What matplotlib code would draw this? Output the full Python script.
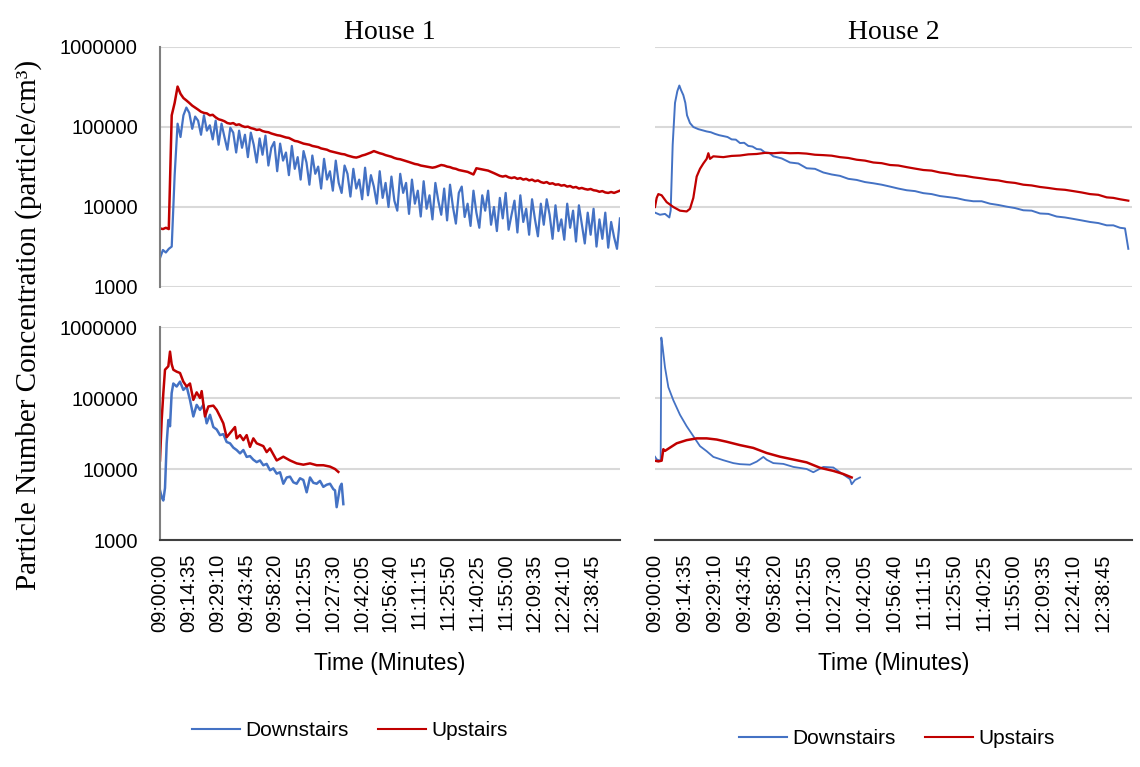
import matplotlib.pyplot as plt
import numpy as np
from matplotlib.lines import Line2D
from matplotlib.ticker import NullLocator

# Particle number concentration, two houses, two test days (top row / bottom row)
# times are seconds after 09:00:00

# House 1, day 1 - logged every 89 s
h1a_t = np.arange(158) * 89
h1a_down = [2300, 2900, 2700, 3000, 3200, 25000, 110000, 75000, 140000, 175000,
            150000, 95000, 135000, 120000, 80000, 140000, 90000, 105000, 70000, 120000,
            60000, 110000, 75000, 52000, 98000, 85000, 48000, 90000, 55000, 80000,
            42000, 85000, 60000, 36000, 72000, 45000, 78000, 33000, 55000, 65000,
            28000, 62000, 38000, 48000, 25000, 58000, 30000, 42000, 22000, 50000,
            36000, 19000, 44000, 26000, 32000, 17000, 40000, 22000, 28000, 16000,
            38000, 20000, 15000, 33000, 26000, 13500, 30000, 17000, 22000, 12500,
            31000, 14000, 25000, 18000, 11000, 28000, 13000, 20000, 10000, 24000,
            12000, 9000, 26000, 15000, 20000, 8200, 22000, 11000, 16000, 7600,
            21000, 9500, 14000, 7000, 20000, 12000, 8000, 17000, 6800, 19000,
            10000, 6200, 15000, 18000, 7500, 11000, 5800, 16000, 8500, 5500,
            14000, 9000, 16000, 6000, 10000, 5000, 13000, 7200, 15000, 5200,
            8000, 12000, 4800, 14000, 6500, 9500, 4500, 12500, 7000, 4300,
            11000, 6000, 12500, 8000, 4000, 10500, 5000, 7000, 3900, 11000,
            5500, 9000, 3700, 10500, 6000, 3500, 8500, 4500, 9500, 3200,
            7000, 4000, 8500, 3100, 6500, 4200, 3000, 7200]
h1a_up = [5400, 5300, 5500, 5300, 140000, 200000, 320000, 260000, 230000, 215000,
          200000, 185000, 175000, 165000, 155000, 150000, 148000, 140000, 142000, 132000,
          125000, 122000, 118000, 112000, 110000, 112000, 106000, 108000, 103000, 100000,
          101000, 97000, 95000, 92000, 93000, 89000, 87000, 86000, 83000, 81000,
          79000, 78000, 76000, 74000, 73000, 70000, 67000, 66000, 64000, 62000,
          61000, 60000, 58000, 57000, 56000, 54000, 53000, 52000, 50000, 49000,
          48000, 47000, 46000, 45500, 44000, 43000, 42000, 41500, 42500, 44000,
          45000, 46500, 48000, 50000, 48500, 47000, 46000, 44500, 43500, 42500,
          41000, 40000, 39500, 38500, 37500, 36500, 35500, 34500, 34000, 33000,
          32500, 32000, 31500, 31000, 31500, 32500, 33500, 33000, 32000, 31500,
          30500, 30000, 29000, 28500, 28000, 27500, 26500, 25500, 30500, 30000,
          29500, 29000, 28500, 27500, 26500, 25500, 24500, 24000, 24500, 23500,
          23000, 23500, 22500, 23000, 22000, 22500, 21500, 22000, 21000, 21500,
          20500, 20000, 20500, 19500, 19800, 19000, 19200, 18500, 18800, 18000,
          18300, 17500, 17800, 17000, 17300, 16800, 16500, 16800, 16200, 16000,
          15500, 15800, 15200, 15000, 15400, 15000, 15500, 16000]

# House 2, day 1
h2a_down_t = [0, 146, 293, 420, 459, 518, 586, 654, 713, 762, 830, 889, 938, 1025,
              1123, 1270, 1514, 1636, 1758, 1880, 2002, 2124, 2246, 2368, 2490, 2612,
              2734, 2856, 2979, 3101, 3223, 3345, 3467, 3711, 3955, 4199, 4443, 4687,
              4932, 5176, 5420, 5664, 5908, 6152, 6397, 6641, 6885, 7129, 7373, 7617,
              7862, 8106, 8350, 8594, 8838, 9082, 9326, 9570, 9815, 10059, 10303,
              10547, 10791, 11035, 11280, 11524, 11768, 12012, 12256, 12500, 12744,
              12988, 13233, 13428, 13623, 13770, 13867]
h2a_down = [8500, 8000, 8200, 7400, 9000, 60000, 200000, 280000, 330000, 290000,
            250000, 200000, 140000, 112000, 100000, 94000, 88000, 86000, 82000, 79000,
            77000, 75000, 70000, 69500, 63000, 63500, 58000, 57000, 53000, 52500,
            48000, 47500, 43000, 40500, 36000, 35000, 30500, 30000, 27000, 25500,
            24500, 22500, 21800, 20500, 19800, 19000, 18000, 17000, 16200, 15800,
            14900, 14500, 13700, 13300, 12900, 12200, 11800, 11800, 11000, 10600,
            10100, 9700, 9100, 9000, 8300, 8200, 7600, 7400, 7100, 6800,
            6500, 6300, 5900, 5900, 5500, 5400, 3000]
h2a_up_t = [0, 49, 98, 195, 342, 537, 732, 928, 1025, 1123, 1221, 1318, 1416, 1514,
            1563, 1611, 1709, 2002, 2246, 2490, 2734, 2979, 3223, 3467, 3711, 3955,
            4199, 4443, 4687, 4932, 5176, 5420, 5664, 5908, 6152, 6397, 6641, 6885,
            7129, 7373, 7617, 7862, 8106, 8350, 8594, 8838, 9082, 9326, 9570, 9815,
            10059, 10303, 10547, 10791, 11035, 11280, 11524, 11768, 12012, 12256,
            12500, 12744, 12988, 13233, 13428, 13623, 13867]
h2a_up = [10000, 13000, 14500, 14000, 11500, 10000, 9000, 8800, 9500, 13000,
          24000, 30000, 35000, 40000, 47000, 40000, 43000, 42000, 43500, 44000,
          45500, 46000, 47500, 47000, 47800, 47000, 47200, 46500, 45000, 44500,
          43800, 42000, 41000, 39000, 38000, 36000, 35300, 33500, 33000, 31500,
          30200, 29000, 28500, 27000, 26200, 25000, 24500, 23500, 22800, 22000,
          21500, 20500, 20000, 19000, 18600, 17800, 17300, 16700, 16400, 15800,
          15200, 14500, 14200, 13200, 13000, 12500, 12000]

# House 1, day 2
h1b_down_t = [0, 51, 101, 152, 203, 253, 304, 354, 405, 506, 608, 709, 810, 911,
              1013, 1114, 1215, 1317, 1418, 1519, 1620, 1722, 1823, 1924, 2025, 2127,
              2228, 2329, 2431, 2532, 2633, 2734, 2836, 2937, 3038, 3139, 3240, 3342,
              3443, 3545, 3646, 3747, 3849, 3950, 4051, 4152, 4254, 4355, 4456, 4557,
              4658, 4759, 4861, 4962, 5063, 5165, 5266, 5317, 5367, 5469, 5519, 5570]
h1b_down = [5000, 4000, 3600, 5400, 23000, 49000, 40000, 117000, 160000, 145000,
            170000, 130000, 145000, 94000, 55000, 80000, 68000, 80000, 44000, 58000,
            39000, 36000, 30000, 31000, 24000, 23000, 20000, 18500, 16600, 18500,
            14800, 15200, 13500, 12500, 13200, 11300, 11800, 9600, 10200, 8600,
            9000, 6200, 7600, 7800, 6500, 6200, 7400, 7000, 4700, 7600,
            6400, 6200, 6800, 5600, 6000, 6200, 5200, 5000, 2900, 5600, 6200, 3200]
h1b_up_t = [0, 51, 101, 152, 253, 304, 354, 405, 506, 608, 709, 810, 911, 1013,
            1114, 1215, 1266, 1367, 1469, 1620, 1722, 1823, 1924, 2025, 2127, 2279,
            2329, 2431, 2532, 2633, 2734, 2836, 2937, 3139, 3240, 3342, 3545, 3747,
            3950, 4152, 4355, 4557, 4759, 4962, 5165, 5317, 5418]
h1b_up = [13200, 49000, 117000, 250000, 280000, 450000, 300000, 250000, 235000, 225000,
          170000, 145000, 160000, 94000, 120000, 100000, 125000, 55000, 76000, 78000,
          68000, 55000, 44000, 28000, 32000, 39000, 27000, 30000, 25500, 30000,
          20500, 27000, 23000, 21000, 17300, 19500, 13200, 14900, 13200, 12000,
          11500, 12000, 11300, 11300, 10800, 10000, 9100]

# House 2, day 2
h2b_down_t = [0, 49, 146, 166, 186, 225, 293, 391, 537, 732, 928, 1123, 1318, 1514,
              1709, 2002, 2295, 2490, 2783, 2979, 3174, 3272, 3467, 3760, 4053, 4443,
              4639, 4932, 5225, 5420, 5713, 5762, 5860, 6006]
h2b_down = [14900, 13700, 13100, 13500, 710000, 515000, 270000, 142000, 93000, 58000,
            40000, 29000, 21000, 17800, 14800, 13300, 12100, 11700, 11500, 12700,
            14800, 13500, 12100, 11800, 10700, 10000, 9000, 10700, 10500, 9000,
            7200, 6100, 7000, 7600]
h2b_up_t = [0, 98, 195, 244, 293, 439, 635, 928, 1221, 1514, 1807, 2100, 2490, 2881,
            3272, 3662, 4053, 4443, 4834, 5225, 5518, 5762]
h2b_up = [13100, 12800, 13100, 19000, 18000, 20000, 23000, 25500, 27000, 27000,
          26000, 24200, 21700, 19800, 16800, 14900, 13600, 12400, 10400, 9400,
          8500, 7600]

houses = ['House 1', 'House 2']
series_names = ['Downstairs', 'Upstairs']
time_ticks = np.arange(16) * 875
time_labels = ['09:00:00', '09:14:35', '09:29:10', '09:43:45', '09:58:20', '10:12:55',
               '10:27:30', '10:42:05', '10:56:40', '11:11:15', '11:25:50', '11:40:25',
               '11:55:00', '12:09:35', '12:24:10', '12:38:45']
conc_ticks = [1000, 10000, 100000, 1000000]
conc_labels = ['1000', '10000', '100000', '1000000']

blue = '#4472C4'
red = '#C00000'
grid_col = '#D9D9D9'
sans = ['Liberation Sans', 'DejaVu Sans']
serif = ['Liberation Serif', 'DejaVu Serif']

plt.rcParams['font.family'] = sans

fig = plt.figure(figsize=(11.4, 7.67), dpi=100)
left_x, left_w = 160 / 1140, 460 / 1140
right_x, right_w = 655 / 1140, 477 / 1140
top_y, top_h = 1 - 287 / 767, 240 / 767
bot_y, bot_h = 1 - 540 / 767, 213 / 767

ax_tl = fig.add_axes([left_x, top_y, left_w, top_h])
ax_tr = fig.add_axes([right_x, top_y, right_w, top_h])
ax_bl = fig.add_axes([left_x, bot_y, left_w, bot_h])
ax_br = fig.add_axes([right_x, bot_y, right_w, bot_h])

ax_tl.plot(h1a_t, h1a_down, color=blue, lw=1.6)
ax_tl.plot(h1a_t, h1a_up, color=red, lw=1.8)
ax_tr.plot(h2a_down_t, h2a_down, color=blue, lw=1.4)
ax_tr.plot(h2a_up_t, h2a_up, color=red, lw=1.6)
ax_bl.plot(h1b_down_t, h1b_down, color=blue, lw=1.8)
ax_bl.plot(h1b_up_t, h1b_up, color=red, lw=1.8)
ax_br.plot(h2b_down_t, h2b_down, color=blue, lw=1.3)
ax_br.plot(h2b_up_t, h2b_up, color=red, lw=1.8)

for ax in [ax_tl, ax_tr, ax_bl, ax_br]:
    ax.set_yscale('log')
    ax.set_ylim(1000, 1000000)
    ax.set_xlim(0, 13975)
    ax.set_yticks(conc_ticks, conc_labels)
    ax.yaxis.set_minor_locator(NullLocator())
    ax.set_xticks(time_ticks, time_labels, rotation=90)
    ax.grid(axis='y', color=grid_col, lw=1.5)
    ax.set_axisbelow(True)
    for s in ax.spines.values():
        s.set_visible(False)
    ax.tick_params(length=0, labelsize=14.5)
    ax.tick_params(axis='y', pad=16)
    ax.tick_params(axis='x', pad=10)

for ax in [ax_tl, ax_tr]:
    ax.tick_params(axis='x', labelbottom=False)
for ax in [ax_tr, ax_br]:
    ax.tick_params(axis='y', labelleft=False)
for ax in [ax_tl, ax_bl]:
    ax.spines['left'].set_visible(True)
    ax.spines['left'].set_color('#7F7F7F')
    ax.spines['left'].set_linewidth(1.5)
for ax in [ax_bl, ax_br]:
    ax.spines['bottom'].set_visible(True)
    ax.spines['bottom'].set_color('#404040')
    ax.spines['bottom'].set_linewidth(1.5)
    ax.set_xlabel('Time (Minutes)', fontsize=16.5, labelpad=14)

ax_tl.set_title(houses[0], family=serif, fontsize=20, pad=6)
ax_tr.set_title(houses[1], family=serif, fontsize=20, pad=6)

fig.text(0.025, 0.576, 'Particle Number Concentration (particle/cm³)',
         family=serif, fontsize=21, rotation=90, ha='center', va='center')

# legends under each column
handles = [Line2D([], [], color=blue, lw=1.5), Line2D([], [], color=red, lw=1.5)]
for cx, cy in [(350 / 1140, 1 - 731 / 767), (897 / 1140, 1 - 739 / 767)]:
    fig.legend(handles, series_names, loc='center', bbox_to_anchor=(cx, cy),
               ncol=2, frameon=False, fontsize=15, handlelength=2.3,
               handletextpad=0.25, columnspacing=1.4)

plt.savefig('out.png', dpi=100)
